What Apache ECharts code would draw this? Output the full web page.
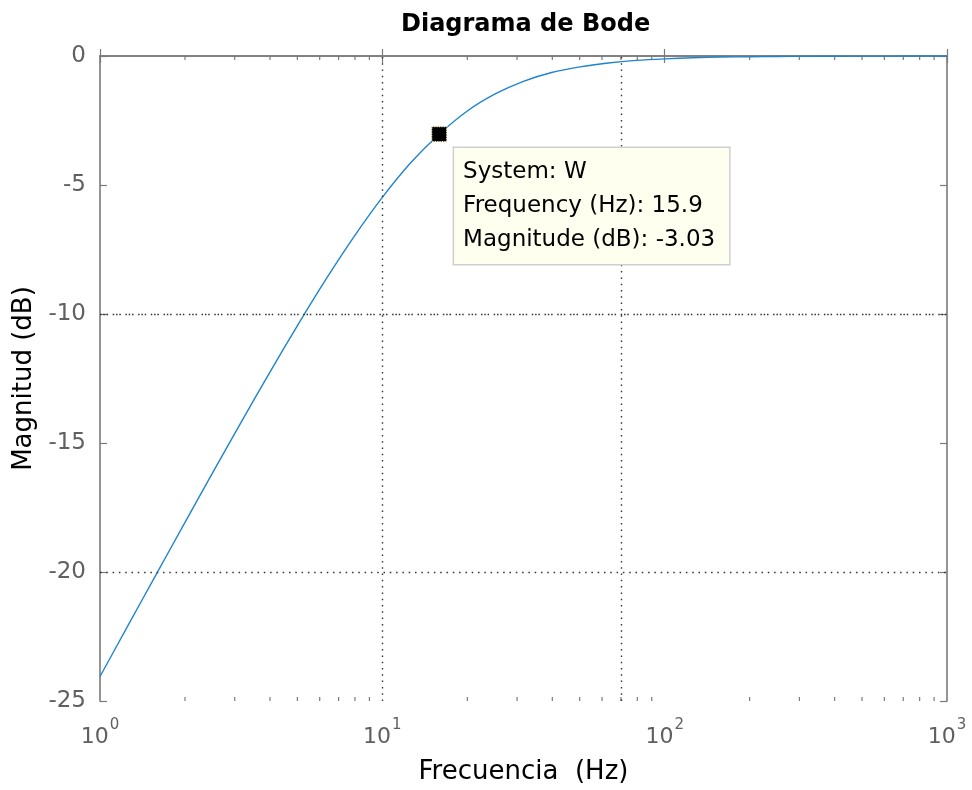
<!DOCTYPE html>
<html>
<head>
<meta charset="utf-8">
<script src="https://cdn.jsdelivr.net/npm/echarts@6/dist/echarts.min.js"></script>
<style>html,body{margin:0;padding:0;background:#fff}#c{width:972px;height:790px}</style>
</head>
<body>
<div id="c"></div>
<script>
// Frequencies (Hz) and magnitude (dB)
const freqHz = [1, 1.26, 1.58, 2, 2.51, 3.16, 3.98, 5.01, 6.31, 7.94, 10, 12.6, 15.9, 20, 25.1, 31.6, 39.8, 50.1, 63.1, 79.4, 100, 126, 158, 200, 251, 316, 398, 501, 631, 794, 1000];
const magDb  = [-24.05, -22.05, -20.10, -18.08, -16.14, -14.20, -12.29, -10.44, -8.66, -7.00, -5.48, -4.14, -3.03, -2.13, -1.47, -0.98, -0.64, -0.42, -0.27, -0.17, -0.11, -0.07, -0.04, -0.03, -0.02, -0.01, -0.007, -0.004, -0.003, -0.002, -0.001];
// Data tip
const tipSystem = 'W';
const tipFreq = 15.9;
const tipMag = -3.03;
// Axis ticks
const yTicks = [-25, -20, -15, -10, -5, 0];
const xMajor = [1, 10, 100, 1000];
const xMinor = [2,3,4,5,6,7,8,9,20,30,40,50,60,70,80,90,200,300,400,500,600,700,800,900];
// Dotted grid lines as they appear in the picture
const gridX = [10, 70];
const gridY = [-10, -20];

const FONT = 'DejaVu Sans';
const AXIS_COL = '#7a7a7a';
const LABEL_COL = '#606060';
const GRID_COL = '#333333';

const chart = echarts.init(document.getElementById('c'), null, {renderer: 'canvas'});
const lineData = freqHz.map((f, i) => [f, magDb[i]]);

const option = {
  animation: false,
  backgroundColor: '#ffffff',
  title: {
    text: 'Diagrama de Bode',
    left: 396, top: 8,
    textStyle: {fontFamily: FONT, fontWeight: 'bold', fontSize: 24, color: '#000'}
  },
  grid: {left: 100, right: 25, top: 56, bottom: 89, containLabel: false},
  xAxis: [{
    type: 'log', logBase: 10, min: xMajor[0], max: xMajor[xMajor.length - 1],
    position: 'bottom',
    name: 'Frecuencia  (Hz)', nameLocation: 'middle', nameGap: 58,
    nameTextStyle: {fontFamily: FONT, fontSize: 26, color: '#000'},
    axisLine: {show: true, lineStyle: {color: AXIS_COL, width: 1.6}},
    axisTick: {show: true, inside: true, length: 7, lineStyle: {color: AXIS_COL, width: 1.2}},
    splitLine: {show: false},
    axisLabel: {
      margin: 17,
      formatter: v => '{b|10}{s|' + Math.round(Math.log10(v)) + '}',
      rich: {
        b: {fontFamily: FONT, fontSize: 22, color: LABEL_COL, verticalAlign: 'bottom', lineHeight: 30},
        s: {fontFamily: FONT, fontSize: 15, color: LABEL_COL, verticalAlign: 'top', lineHeight: 15, padding: [0, 0, 0, 1]}
      }
    }
  }, {
    type: 'log', logBase: 10, min: xMajor[0], max: xMajor[xMajor.length - 1],
    position: 'top',
    axisLine: {show: true, lineStyle: {color: AXIS_COL, width: 1.6}},
    axisTick: {show: true, inside: true, length: 7, lineStyle: {color: AXIS_COL, width: 1.2}},
    axisLabel: {show: false}, splitLine: {show: false}
  }],
  yAxis: [{
    type: 'value', min: yTicks[0], max: yTicks[yTicks.length - 1], interval: 5,
    position: 'left',
    name: 'Magnitud (dB)', nameLocation: 'middle', nameGap: 58, nameRotate: 90,
    nameTextStyle: {fontFamily: FONT, fontSize: 26, color: '#000'},
    axisLine: {show: true, lineStyle: {color: AXIS_COL, width: 1.6}},
    axisTick: {show: true, inside: true, length: 7, lineStyle: {color: AXIS_COL, width: 1.2}},
    axisLabel: {margin: 14, fontFamily: FONT, fontSize: 23, color: LABEL_COL},
    splitLine: {show: false}
  }, {
    type: 'value', min: yTicks[0], max: yTicks[yTicks.length - 1], interval: 5,
    position: 'right',
    axisLine: {show: true, lineStyle: {color: AXIS_COL, width: 1.6}},
    axisTick: {show: true, inside: true, length: 7, lineStyle: {color: AXIS_COL, width: 1.2}},
    axisLabel: {show: false}, splitLine: {show: false}
  }],
  series: [{
    type: 'custom',
    xAxisIndex: 0, yAxisIndex: 0,
    data: xMinor.map(f => [f, 0]),
    silent: true,
    clip: false,
    renderItem: function (params, api) {
      const f = api.value(0);
      const b = api.coord([f, yTicks[0]]);
      const t = api.coord([f, yTicks[yTicks.length - 1]]);
      const st = {stroke: AXIS_COL, lineWidth: 1.2};
      return {type: 'group', children: [
        {type: 'line', shape: {x1: b[0], y1: b[1], x2: b[0], y2: b[1] - 4}, style: st},
        {type: 'line', shape: {x1: t[0], y1: t[1], x2: t[0], y2: t[1] + 4}, style: st}
      ]};
    }
  }, {
    type: 'line',
    data: lineData,
    smooth: 0.3,
    showSymbol: false,
    symbol: 'none',
    lineStyle: {color: '#1f84cf', width: 1.4},
    z: 3,
    markLine: {
      silent: true, symbol: ['none', 'none'], label: {show: false},
      animation: false,
      data: [
        {xAxis: gridX[0], lineStyle: {color: GRID_COL, width: 1.4, type: [1.5, 4.8]}},
        {xAxis: gridX[1], lineStyle: {color: GRID_COL, width: 1.4, type: [1.5, 4.8]}},
        {yAxis: gridY[0], lineStyle: {color: GRID_COL, width: 1.4, type: [1.5, 1.8, 1.5, 1.8, 1.5, 4.6]}},
        {yAxis: gridY[1], lineStyle: {color: GRID_COL, width: 1.4, type: [1.5, 4.8]}}
      ]
    }
  }, {
    type: 'scatter',
    data: [[tipFreq, tipMag]],
    symbol: 'rect',
    symbolSize: 15,
    z: 5,
    itemStyle: {color: '#000', borderColor: '#fff6c0', borderWidth: 1.2, borderType: 'dotted', opacity: 1},
    label: {
      show: true,
      position: [23, 22],
      formatter: () => 'System: ' + tipSystem + '\nFrequency (Hz): ' + tipFreq + '\nMagnitude (dB): ' + tipMag,
      fontFamily: FONT, fontSize: 23, color: '#000', lineHeight: 34,
      backgroundColor: '#fffff0', borderColor: '#cfcfcf', borderWidth: 1.5,
      padding: [7, 14, 7, 9], align: 'left', verticalAlign: 'top'
    }
  }]
};
chart.setOption(option);
</script>
</body>
</html>
